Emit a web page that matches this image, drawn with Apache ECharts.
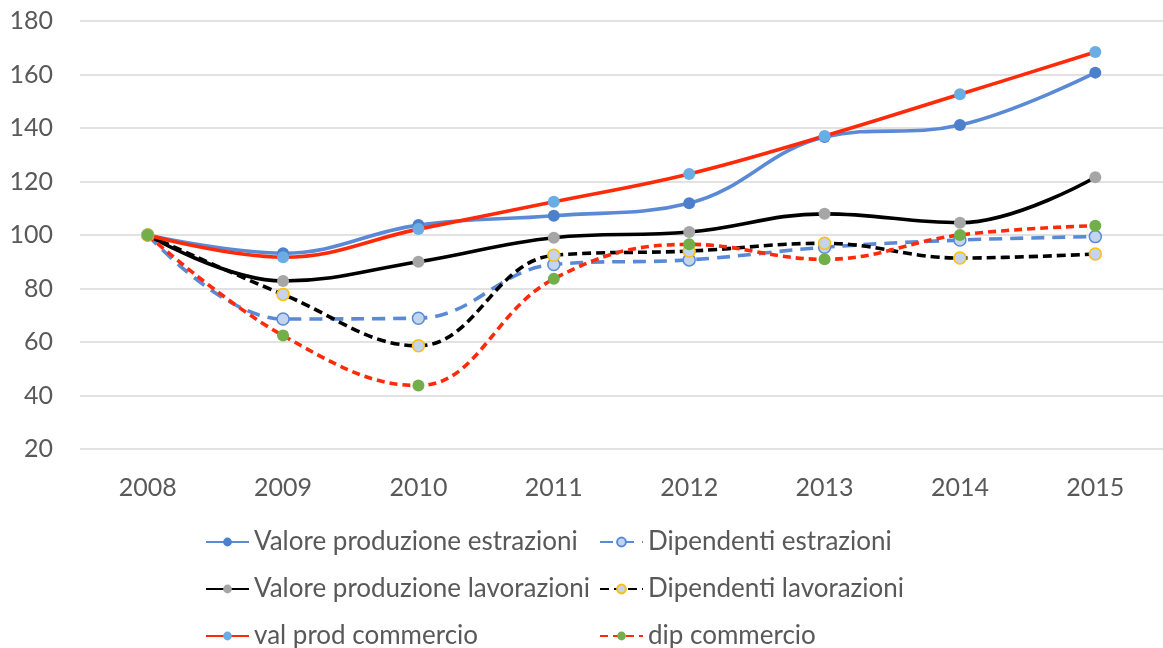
<!DOCTYPE html>
<html>
<head>
<meta charset="utf-8">
<script src="https://cdn.jsdelivr.net/npm/echarts@6/dist/echarts.min.js"></script>
<style>
  html, body { margin: 0; padding: 0; background: #fff; }
  #chart { width: 1163px; height: 648px; }
</style>
</head>
<body>
<div id="chart"></div>
<script>
var years = ["2008", "2009", "2010", "2011", "2012", "2013", "2014", "2015"];
var yTicks = { min: 20, max: 180, step: 20 };

var valProdEstrazioni = [100, 93.2, 103.7, 107.2, 111.9, 136.6, 141.1, 160.7];
var dipEstrazioni = [100, 68.6, 68.9, 89.0, 90.7, 95.4, 98.1, 99.4];
var valProdLavorazioni = [100, 82.8, 90.0, 99.0, 101.1, 107.9, 104.6, 121.6];
var dipLavorazioni = [100, 77.8, 58.6, 92.4, 94.0, 96.9, 91.4, 92.9];
var valProdCommercio = [100, 91.7, 102.2, 112.4, 122.8, 137.0, 152.6, 168.4];
var dipCommercio = [100, 62.4, 43.7, 83.6, 96.5, 90.9, 100.0, 103.5];

var FONT = "Lato";
var TXT = "#595959";

function line(name, data, lineColor, dash, markFill, markBorder) {
  return {
    name: name,
    type: "line",
    data: data,
    smooth: 0.4,
    symbol: "circle",
    symbolSize: 12,
    lineStyle: { color: lineColor, width: 3.6, type: dash || "solid", cap: "butt" },
    itemStyle: {
      color: markFill,
      borderColor: markBorder || markFill,
      borderWidth: markBorder ? 1.5 : 0
    },
    emphasis: { disabled: true }
  };
}

// one legend per entry, laid out in 2 columns x 3 rows like the original
function legendItem(name, col, row) {
  return {
    left: col === 0 ? 205 : 599,
    top: 529 + row * 47,
    padding: 0,
    itemWidth: 43,
    itemHeight: 11,
    itemGap: 0,
    textStyle: { color: TXT, fontSize: 26, fontFamily: FONT },
    data: [name]
  };
}

var chart = echarts.init(document.getElementById("chart"));
chart.setOption({
  animation: false,
  backgroundColor: "#fff",
  textStyle: { fontFamily: FONT },
  grid: { left: 80, top: 21, width: 1088, height: 428 },
  xAxis: {
    type: "category",
    data: years,
    boundaryGap: true,
    axisLine: { show: false },
    axisTick: { show: false },
    axisLabel: { color: TXT, fontSize: 25, fontFamily: FONT, margin: 26 }
  },
  yAxis: {
    type: "value",
    min: yTicks.min,
    max: yTicks.max,
    interval: yTicks.step,
    axisLine: { show: false },
    axisTick: { show: false },
    axisLabel: { color: TXT, fontSize: 25, fontFamily: FONT, margin: 27 },
    splitLine: { lineStyle: { color: "#D9D9D9", width: 1.5 } }
  },
  legend: [
    legendItem("Valore produzione estrazioni", 0, 0),
    legendItem("Dipendenti estrazioni", 1, 0),
    legendItem("Valore produzione lavorazioni", 0, 1),
    legendItem("Dipendenti lavorazioni", 1, 1),
    legendItem("val prod commercio", 0, 2),
    legendItem("dip commercio", 1, 2)
  ],
  series: [
    line("Valore produzione estrazioni", valProdEstrazioni, "#5A8AD6", "solid", "#4D80CC"),
    line("Dipendenti estrazioni", dipEstrazioni, "#5A8AD6", [13, 8], "#C3D4EE", "#5A8AD6"),
    line("Valore produzione lavorazioni", valProdLavorazioni, "#000000", "solid", "#A6A6A6"),
    line("Dipendenti lavorazioni", dipLavorazioni, "#000000", [9, 5], "#C3D4EE", "#FFC000"),
    line("val prod commercio", valProdCommercio, "#FF2A0A", "solid", "#6AADE4"),
    line("dip commercio", dipCommercio, "#FF2A0A", [8, 5], "#72AE4A")
  ]
});
</script>
</body>
</html>
